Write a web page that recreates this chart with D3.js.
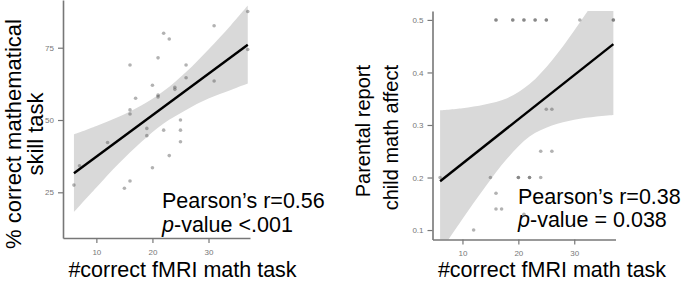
<!DOCTYPE html>
<html>
<head>
<meta charset="utf-8">
<script src="https://cdn.jsdelivr.net/npm/d3@7"></script>
<style>
  body { margin: 0; background: #fff; }
  svg { display: block; font-family: "Liberation Sans", Arial, sans-serif; }
</style>
</head>
<body>
<svg id="drawing_region"></svg>
<script>
// left panel: % correct mathematical skill task vs #correct fMRI math task
const skill_x = [6, 7, 12, 15, 16, 16, 16, 16, 17, 19, 19, 20, 20, 21, 21, 21, 22, 22, 23, 23, 24, 24, 25, 25, 25, 26, 26, 31, 31, 37, 37];
const skill_y = [27.5, 34.2, 42.2, 26.4, 28.9, 69, 53.5, 52.1, 57.5, 47.1, 44.6, 62, 33.5, 71.5, 58.6, 58, 80, 46.5, 78, 37.7, 61.3, 60.6, 50, 46.5, 42.5, 69, 64.6, 82.6, 63.5, 87.5, 74.4];
const skill_fit = [[6, 31.6], [37, 76.0]];
const skill_band_x  = [6, 10, 14, 18, 22, 26, 30, 34, 37];
const skill_band_lo = [18.2, 26.7, 35.0, 42.4, 48.8, 53.5, 57.4, 60.4, 62.6];
const skill_band_hi = [45.0, 47.9, 51.1, 55.0, 60.0, 66.6, 74.4, 82.8, 89.6];
const skill_ticks_x = [10, 20, 30];
const skill_ticks_y = [25, 50, 75];

// right panel: parental report child math affect
const affect_x = [16, 16, 19, 19, 21, 21, 23, 23, 25, 25, 31, 37, 37, 25, 26, 24, 26, 6, 15, 20, 20, 22, 22, 24, 16, 16, 17, 21, 12];
const affect_y = [0.5, 0.5, 0.5, 0.5, 0.5, 0.5, 0.5, 0.5, 0.5, 0.5, 0.5, 0.5, 0.5, 0.33, 0.33, 0.25, 0.25, 0.2, 0.2, 0.2, 0.2, 0.2, 0.2, 0.2, 0.17, 0.14, 0.14, 0.13, 0.1];
const affect_fit = [[6, 0.193], [37, 0.454]];
const affect_band_x  = [6, 10, 14, 18, 22, 26, 30, 34, 37];
const affect_band_lo = [0.058, 0.121, 0.181, 0.236, 0.278, 0.299, 0.310, 0.316, 0.319];
const affect_band_hi = [0.328, 0.332, 0.339, 0.351, 0.378, 0.423, 0.480, 0.542, 0.589];
const affect_ticks_x = [10, 20, 30];
const affect_ticks_y = [0.1, 0.2, 0.3, 0.4, 0.5];

const svg = d3.select('#drawing_region')
    .attr('width', 685)
    .attr('height', 282);

function panel(cfg) {
    const xscale = d3.scaleLinear().domain(cfg.xdomain).range([cfg.left, cfg.right]);
    const yscale = d3.scaleLinear().domain(cfg.ydomain).range([cfg.bottom, cfg.top]);

    const clip_id = 'clip_' + cfg.name;
    svg.append('clipPath').attr('id', clip_id)
        .append('rect')
        .attr('x', cfg.left).attr('y', cfg.top)
        .attr('width', cfg.right - cfg.left).attr('height', cfg.bottom - cfg.top);

    const g = svg.append('g');
    const inner = g.append('g').attr('clip-path', `url(#${clip_id})`);

    const band = cfg.band_x.map((x, i) => ({x: x, lo: cfg.band_lo[i], hi: cfg.band_hi[i]}));
    inner.append('path')
        .datum(band)
        .attr('fill', '#d9d9d9')
        .attr('d', d3.area()
            .curve(d3.curveCatmullRom)
            .x(d => xscale(d.x))
            .y0(d => yscale(d.lo))
            .y1(d => yscale(d.hi)));

    const pts = cfg.px.map((x, i) => ({x: x, y: cfg.py[i]}));
    inner.selectAll('circle')
        .data(pts)
        .enter()
        .append('circle')
        .attr('cx', d => xscale(d.x))
        .attr('cy', d => yscale(d.y))
        .attr('r', 1.8)
        .attr('fill', '#555')
        .attr('fill-opacity', 0.45);

    inner.append('path')
        .datum(cfg.fit)
        .attr('fill', 'none')
        .attr('stroke', '#000')
        .attr('stroke-width', 2.4)
        .attr('d', d3.line().x(d => xscale(d[0])).y(d => yscale(d[1])));

    const xaxis = d3.axisBottom(xscale).tickValues(cfg.ticks_x).tickSize(5).tickPadding(6).tickSizeOuter(0);
    const yaxis = d3.axisLeft(yscale).tickValues(cfg.ticks_y).tickSize(5).tickPadding(4).tickSizeOuter(0)
        .tickFormat(cfg.yformat);

    [g.append('g').attr('transform', `translate(0,${cfg.bottom})`).call(xaxis),
     g.append('g').attr('transform', `translate(${cfg.left},0)`).call(yaxis)]
        .forEach(a => {
            a.select('.domain').attr('stroke', '#777').attr('stroke-width', 1.6);
            a.selectAll('.tick line').attr('stroke', '#777').attr('stroke-width', 1.2);
            a.selectAll('.tick text').attr('fill', '#777').attr('font-size', 8)
                .attr('font-family', '"Liberation Sans", Arial, sans-serif');
        });

    g.append('text')
        .attr('x', cfg.xtitle_x).attr('y', 277)
        .attr('text-anchor', 'middle')
        .attr('font-size', 21.5)
        .text('#correct fMRI math task');

    cfg.ytitle.forEach((line, i) => {
        g.append('text')
            .attr('transform', `translate(${cfg.ytitle_base[i]},${cfg.ytitle_y}) rotate(-90)`)
            .attr('text-anchor', cfg.ytitle_anchor)
            .attr('font-size', cfg.ytitle_size)
            .text(line);
    });

    g.append('text')
        .attr('x', cfg.stat_x).attr('y', cfg.stat_y)
        .attr('font-size', 21.5)
        .text(cfg.stat1);
    const t2 = g.append('text')
        .attr('x', cfg.stat_x).attr('y', cfg.stat_y + 23.5)
        .attr('font-size', 21.5);
    t2.append('tspan').attr('font-style', 'italic').text('p');
    t2.append('tspan').text(cfg.stat2);
}

panel({
    name: 'skill',
    left: 63, right: 250, top: 0, bottom: 238,
    xdomain: [4.05, 37.4], ydomain: [9.2, 91.5],
    px: skill_x, py: skill_y, fit: skill_fit,
    band_x: skill_band_x, band_lo: skill_band_lo, band_hi: skill_band_hi,
    ticks_x: skill_ticks_x, ticks_y: skill_ticks_y, yformat: d3.format('d'),
    xtitle_x: 182.5,
    ytitle: ['% correct mathematical', 'skill task'], ytitle_base: [21, 43], ytitle_y: 134,
    ytitle_anchor: 'middle', ytitle_size: 22,
    stat_x: 162, stat_y: 208, stat1: 'Pearson’s r=0.56', stat2: '-value <.001'
});

panel({
    name: 'affect',
    left: 432.5, right: 615.5, top: 11, bottom: 239.5,
    xdomain: [4.64, 37.38], ydomain: [0.082, 0.517],
    px: affect_x, py: affect_y, fit: affect_fit,
    band_x: affect_band_x, band_lo: affect_band_lo, band_hi: affect_band_hi,
    ticks_x: affect_ticks_x, ticks_y: affect_ticks_y, yformat: d3.format('.1f'),
    xtitle_x: 552,
    ytitle: ['Parental report', 'child math affect'], ytitle_base: [370, 398], ytitle_y: 65,
    ytitle_anchor: 'end', ytitle_size: 20,
    stat_x: 518, stat_y: 203.5, stat1: 'Pearson’s r=0.38', stat2: '-value = 0.038'
});
</script>
</body>
</html>
